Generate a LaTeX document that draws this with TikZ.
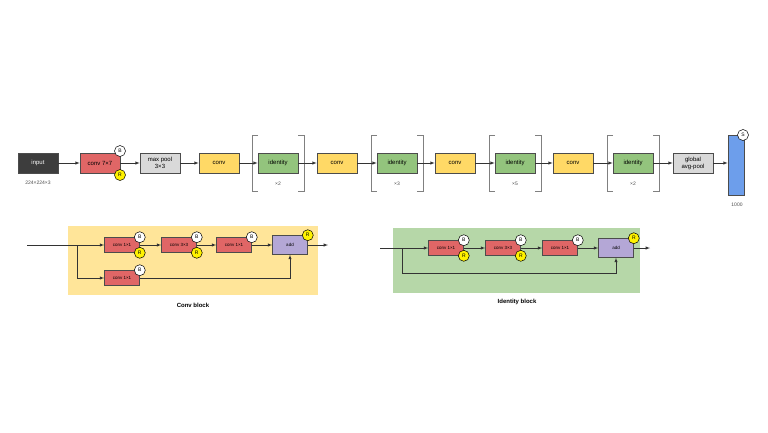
\documentclass[tikz,border=0pt]{standalone}
\usepackage{fontspec}
\setmainfont{Liberation Sans}
\definecolor{cred}{HTML}{E06666}
\definecolor{cyel}{HTML}{FFD966}
\definecolor{cgrn}{HTML}{93C47D}
\definecolor{cgry}{HTML}{D9D9D9}
\definecolor{cdrk}{HTML}{3D3D3D}
\definecolor{cpur}{HTML}{B4A7D6}
\definecolor{cblu}{HTML}{6D9EEB}
\definecolor{cbgy}{HTML}{FFE599}
\definecolor{cbgg}{HTML}{B6D7A8}
\begin{document}
\begin{tikzpicture}[x=1pt,y=-1pt,
 box/.style={draw=black!70,line width=0.6pt,minimum width=40pt,minimum height=20pt,inner sep=0pt,font=\fontsize{6}{7}\selectfont,align=center},
 sbox/.style={box,minimum width=35pt,minimum height=15pt,font=\fontsize{4.5}{5}\selectfont},
 circ/.style={circle,draw=black,line width=0.5pt,minimum size=11pt,inner sep=0pt,font=\fontsize{5}{5}\selectfont},
 bc/.style={circ,fill=white},
 rc/.style={circ,fill=yellow},
 arr/.style={-latex,line width=0.5pt,black!80},
 ln/.style={line width=0.5pt,black!80},
 brk/.style={line width=0.5pt,black!50},
 lab/.style={font=\fontsize{5}{6}\selectfont,text=black!70}]
\useasboundingbox (0,0) rectangle (768,432);
% top row
\node[box,fill=cdrk,text=white] (in) at (38,163) {input};
\node[lab] (insz) at (38,183) {224×224×3};
\node[box,fill=cred] (c7) at (100,163) {conv 7×7};
\node[bc] (c7b) at (120,151) {B};
\node[rc] (c7r) at (120,175) {R};
\node[box,fill=cgry] (mp) at (160,163) {max pool\\3×3};
\node[box,fill=cyel] (cv1) at (219,163) {conv};
\node[box,fill=cgrn] (id1) at (278,163) {identity};
\node[box,fill=cyel] (cv2) at (337,163) {conv};
\node[box,fill=cgrn] (id2) at (397,163) {identity};
\node[box,fill=cyel] (cv3) at (455,163) {conv};
\node[box,fill=cgrn] (id3) at (515,163) {identity};
\node[box,fill=cyel] (cv4) at (573,163) {conv};
\node[box,fill=cgrn] (id4) at (633,163) {identity};
\node[box,fill=cgry] (gp) at (693,163) {global\\avg-pool};
\node[draw=black!70,fill=cblu,line width=0.6pt,minimum width=16pt,minimum height=60pt,inner sep=0pt] (fc) at (736,165) {};
\node[bc] (fcs) at (743,135) {S};
\node[lab] (fcl) at (737,205) {1000};
\foreach \n/\m/\t in {id1/278/2,id2/397/3,id3/515/5,id4/633/2}{
 \draw[brk] (\m-20,135) -- (\m-26,135) -- (\m-26,191) -- (\m-20,191);
 \draw[brk] (\m+20,135) -- (\m+26,135) -- (\m+26,191) -- (\m+20,191);
 \node[lab] (x\n) at (\m,184) {×\t};
}
\draw[arr] (in) -- (c7);
\draw[arr] (c7) -- (mp);
\draw[arr] (mp) -- (cv1);
\draw[arr] (cv1) -- (id1);
\draw[arr] (id1) -- (cv2);
\draw[arr] (cv2) -- (id2);
\draw[arr] (id2) -- (cv3);
\draw[arr] (cv3) -- (id3);
\draw[arr] (id3) -- (cv4);
\draw[arr] (cv4) -- (id4);
\draw[arr] (id4) -- (gp);
\draw[arr] (gp) -- (gp -| fc.west);
% conv block
\fill[cbgy] (68,226) rectangle (318,295);
\node[font=\fontsize{6}{7}\selectfont\bfseries] (cbl) at (193,305) {Conv block};
\coordinate (cs) at (27,245);
\coordinate (ce) at (328,245);
\coordinate (cj) at (77,245);
\node[sbox,fill=cred] (a1) at (122,245) {conv 1×1};
\node[sbox,fill=cred] (a2) at (179,245) {conv 3×3};
\node[sbox,fill=cred] (a3) at (234,245) {conv 1×1};
\node[sbox,fill=cpur,minimum height=19pt] (aa) at (290,245) {add};
\node[sbox,fill=cred] (a4) at (122,278) {conv 1×1};
\node[bc] at (a1.north east) {B}; \node[rc] at (a1.south east) {R};
\node[bc] at (a2.north east) {B}; \node[rc] at (a2.south east) {R};
\node[bc] at (a3.north east) {B};
\node[rc] at (aa.north east) {R};
\node[bc] at (a4.north east) {B};
\draw[ln] (cs) -- (cj);
\draw[arr] (cj) -- (a1);
\draw[arr] (a1) -- (a2);
\draw[arr] (a2) -- (a3);
\draw[arr] (a3) -- (aa);
\draw[arr] (aa) -- (ce);
\draw[arr] (cj) |- (a4);
\draw[arr] (a4) -| (aa);
% identity block
\fill[cbgg] (393,228) rectangle (640,293);
\node[font=\fontsize{6}{7}\selectfont\bfseries] (ibl) at (517,302) {Identity block};
\coordinate (is) at (380,248);
\coordinate (ie) at (650,248);
\coordinate (ij) at (402,248);
\coordinate (ib) at (402,273);
\node[sbox,fill=cred] (b1) at (446,248) {conv 1×1};
\node[sbox,fill=cred] (b2) at (503,248) {conv 3×3};
\node[sbox,fill=cred] (b3) at (560,248) {conv 1×1};
\node[sbox,fill=cpur,minimum height=19pt] (ba) at (616,248) {add};
\node[bc] at (b1.north east) {B}; \node[rc] at (b1.south east) {R};
\node[bc] at (b2.north east) {B}; \node[rc] at (b2.south east) {R};
\node[bc] at (b3.north east) {B};
\node[rc] at (ba.north east) {R};
\draw[ln] (is) -- (ij);
\draw[arr] (ij) -- (b1);
\draw[arr] (b1) -- (b2);
\draw[arr] (b2) -- (b3);
\draw[arr] (b3) -- (ba);
\draw[arr] (ba) -- (ie);
\draw[arr] (ij) -- (ib) -| (ba);
\end{tikzpicture}
\end{document}
